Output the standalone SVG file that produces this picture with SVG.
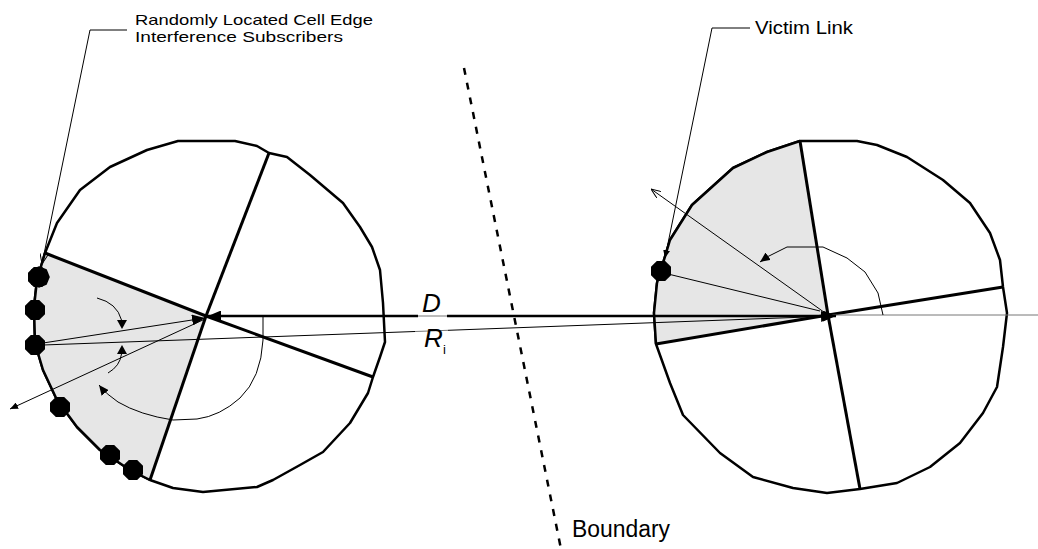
<svg xmlns="http://www.w3.org/2000/svg" width="1038" height="549" viewBox="0 0 1038 549">
<style>
.cell{fill:#fff;stroke:#000;stroke-width:2.5;stroke-linejoin:round}
.shade{fill:#e6e6e6;stroke:none}
.sector{stroke:#000;stroke-width:3;fill:none}
.thin{stroke:#000;stroke-width:1;fill:none}
.grey{stroke:#777;stroke-width:1;fill:none}
.thick{stroke:#000;stroke-width:2.5;fill:none}
.dash{stroke:#000;stroke-width:2.5;stroke-dasharray:7 8;fill:none}
.sub{fill:#000}
.lbl{font-family:"Liberation Sans",Arial,sans-serif;fill:#000}
.sym{font-family:"Liberation Sans",Arial,sans-serif;font-style:italic;fill:#000}
</style>
<defs>
<marker id="big" viewBox="0 0 13 11" refX="13" refY="5.5" markerWidth="13" markerHeight="11" markerUnits="userSpaceOnUse" orient="auto"><path d="M0,0 L13,5.5 L0,11 z" fill="#000"/></marker>
<marker id="small" viewBox="0 0 10 9" refX="10" refY="4.5" markerWidth="10" markerHeight="9" markerUnits="userSpaceOnUse" orient="auto"><path d="M0,0 L10,4.5 L0,9 z" fill="#000"/></marker>
<marker id="tiny" viewBox="0 0 8 7" refX="8" refY="3.5" markerWidth="8" markerHeight="7" markerUnits="userSpaceOnUse" orient="auto"><path d="M0,0 L8,3.5 L0,7 z" fill="#000"/></marker>
<marker id="open" viewBox="0 0 10 8" refX="10" refY="4" markerWidth="10" markerHeight="8" markerUnits="userSpaceOnUse" orient="auto"><path d="M0,0 L10,4 L0,8" fill="none" stroke="#000" stroke-width="1"/></marker>
<polygon id="oct" points="4.2,-10 -4.2,-10 -10,-4.2 -10,4.2 -4.2,10 4.2,10 10,4.2 10,-4.2"/>
</defs>

<g id="cell-left">
<polygon class="cell" points="178,141 235,141 257,146 269,153 287,157 310,175 343,203 360,227 372,247 380,270 383,303 385,342 380,357 373,377 368,393 350,423 323,452 300,465 273,480 257,487 203,492 173,488 150,480 130,470 100,450 77,427 57,400 43,370 35,343 34,307 37,280 45,253 57,223 80,190 110,167 147,150"/>
<polygon class="shade" points="206,316 45,253 37,280 34,307 35,343 43,370 57,400 77,427 100,450 130,470 150,480"/>
<polyline class="cell" style="fill:none" points="45,253 37,280 34,307 35,343 43,370 57,400 77,427 100,450 130,470 150,480"/>
<line class="sector" x1="206" y1="316" x2="269" y2="153"/>
<line class="sector" x1="206" y1="316" x2="45" y2="253"/>
<line class="sector" x1="206" y1="316" x2="373" y2="377"/>
<line class="sector" x1="206" y1="316" x2="150" y2="480"/>
</g>

<g id="cell-right">
<polygon class="cell" points="800,141 857,141 877,145 907,157 943,180 970,203 990,233 1000,260 1003,287 1007,313 1003,347 997,387 983,413 960,443 930,467 897,483 860,489 827,493 793,488 753,477 720,453 683,415 670,383 656,344 654,313 657,283 670,240 692,205 733,168 767,152"/>
<polygon class="shade" points="828,315 800,141 767,152 733,168 692,205 670,240 657,283 654,313 656,344"/>
<polyline class="cell" style="fill:none" points="800,141 767,152 733,168 692,205 670,240 657,283 654,313 656,344"/>
<line class="sector" x1="828" y1="315" x2="800" y2="141"/>
<line class="sector" x1="828" y1="315" x2="1003" y2="287"/>
<line class="sector" x1="828" y1="315" x2="860" y2="489"/>
<line class="sector" x1="828" y1="315" x2="656" y2="344"/>
</g>

<g id="boundary">
<line class="dash" x1="464" y1="68" x2="561" y2="549"/>
</g>

<g id="connectors">
<line class="grey" x1="828" y1="315" x2="1038" y2="315"/>
<line class="thick" x1="418" y1="316" x2="208" y2="316" marker-end="url(#big)"/>
<line class="grey" x1="418" y1="316" x2="447" y2="316"/>
<line class="thick" x1="447" y1="316" x2="836" y2="316" marker-end="url(#big)"/>
<line class="thin" x1="43" y1="345" x2="415" y2="331.5"/>
<line class="grey" x1="415" y1="331.5" x2="448" y2="330.3"/>
<line class="thin" x1="448" y1="330.3" x2="834" y2="316" marker-end="url(#big)"/>
<line class="thin" x1="43" y1="343" x2="205" y2="318" marker-end="url(#big)"/>
<line class="thin" x1="205" y1="319" x2="10" y2="409" marker-end="url(#tiny)"/>
<path class="thin" d="M97,298 Q117,303 121.5,320"/>
<path d="M117,320 L127,320 L122,329 z" fill="#000"/>
<path class="thin" d="M108,373 Q120,366 121.5,354"/>
<path d="M117,354 L127,354 L122,345 z" fill="#000"/>
<path class="thin" d="M263,316 L263,340 Q261,378 240,398 Q220,416 197,419 L173,420 Q140,415 118,402 Q106,394 99,385" marker-end="url(#small)"/>
<line class="thin" x1="828" y1="315" x2="651" y2="189" marker-end="url(#open)"/>
<line class="thin" x1="668" y1="274" x2="820" y2="311"/>
<polyline class="thin" points="883,315 878,293 865,272 847,258 823,247 787,247 767,257 760,262" marker-end="url(#small)"/>
<polyline class="thin" points="127,30 90,30 42,264" marker-end="url(#open)"/>
<polyline class="thin" points="750,28 712,28 665,258" marker-end="url(#tiny)"/>
</g>

<g id="subscribers">
<use href="#oct" class="sub" x="38" y="277"/>
<use href="#oct" class="sub" transform="translate(39,277) rotate(22.5)"/>
<use href="#oct" class="sub" x="35" y="310"/>
<use href="#oct" class="sub" x="35" y="345"/>
<use href="#oct" class="sub" x="60" y="407"/>
<use href="#oct" class="sub" x="110" y="455"/>
<use href="#oct" class="sub" x="133" y="470"/>
<use href="#oct" class="sub" x="661" y="271"/>
</g>

<g id="labels">
<text class="lbl" x="135" y="24.5" font-size="15" textLength="238" lengthAdjust="spacingAndGlyphs">Randomly Located Cell Edge</text>
<text class="lbl" x="135" y="41.5" font-size="15" textLength="208" lengthAdjust="spacingAndGlyphs">Interference Subscribers</text>
<text class="lbl" x="755" y="34" font-size="18.5" textLength="98" lengthAdjust="spacingAndGlyphs">Victim Link</text>
<text class="lbl" x="572" y="537" font-size="23" textLength="98" lengthAdjust="spacingAndGlyphs">Boundary</text>
<text class="sym" x="422" y="312" font-size="26">D</text>
<text class="sym" x="424" y="347" font-size="26">R</text>
<text class="lbl" x="443" y="354" font-size="13">i</text>
</g>
</svg>
